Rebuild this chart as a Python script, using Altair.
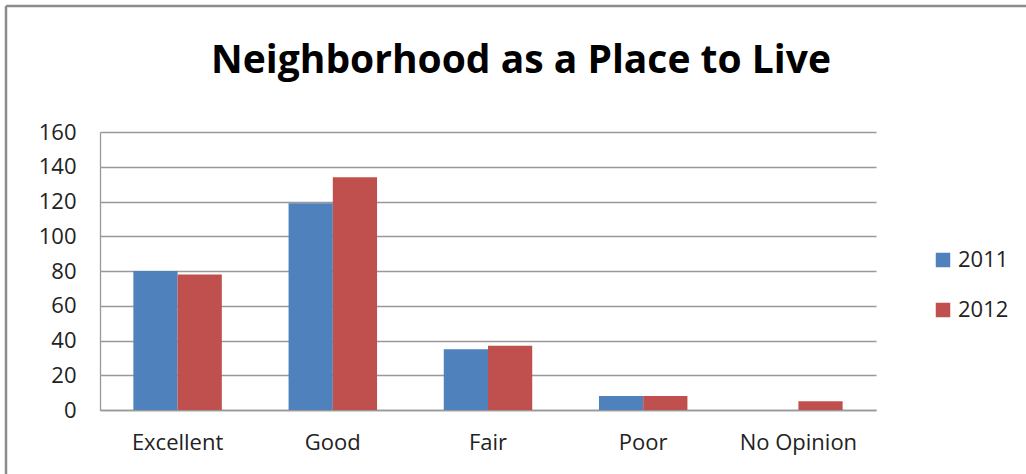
import altair as alt
import pandas as pd

categories = ["Excellent", "Good", "Fair", "Poor", "No Opinion"]
years = ["2011", "2012"]
values_2011 = [80, 119, 35, 8, 0]
values_2012 = [78, 134, 37, 8, 5]
y_ticks = [0, 20, 40, 60, 80, 100, 120, 140, 160]
colors = ["#4F81BD", "#C0504D"]

rows = []
for c, v in zip(categories, values_2011):
    rows.append({"category": c, "year": "2011", "value": v})
for c, v in zip(categories, values_2012):
    rows.append({"category": c, "year": "2012", "value": v})
df = pd.DataFrame(rows)

FONT = "Open Sans"

bars = alt.Chart(df).mark_bar().encode(
    x=alt.X("category:N", sort=categories,
            scale=alt.Scale(paddingInner=0.43, paddingOuter=0.215),
            axis=alt.Axis(title=None, labelAngle=0, ticks=False, labelPadding=22,
                          labelFontSize=22, labelFont=FONT, labelColor="#222",
                          domainColor="#999", domainWidth=1.3, grid=False)),
    xOffset=alt.XOffset("year:N", sort=years),
    y=alt.Y("value:Q", scale=alt.Scale(domain=[0, 160], nice=False),
            axis=alt.Axis(title=None, values=y_ticks, ticks=False, labelPadding=24,
                          labelFontSize=22, labelFont=FONT, labelColor="#222",
                          domainColor="#999", domainWidth=1.3,
                          gridColor="#999", gridWidth=1.3)),
    color=alt.Color("year:N", sort=years,
                    scale=alt.Scale(domain=years, range=colors),
                    legend=alt.Legend(title=None, orient="none", legendX=832, legendY=117,
                                      symbolType="square", symbolSize=210,
                                      symbolStrokeWidth=0, labelFontSize=22,
                                      labelFont=FONT, labelColor="#222",
                                      rowPadding=28, labelOffset=4)),
)

title = alt.Chart(pd.DataFrame({"t": ["Neighborhood as a Place to Live"]})).mark_text(
    font=FONT, fontSize=39, fontWeight="bold", color="black",
    align="center", baseline="alphabetic").encode(
    text="t:N", x=alt.value(421), y=alt.value(-59))

frame_df = pd.DataFrame({"k": [0]})
left_border = alt.Chart(frame_df).mark_rule(color="#8c8c8c", strokeWidth=2.5).encode(
    x=alt.value(-94), y=alt.value(-126), y2=alt.value(342))
top_border = alt.Chart(frame_df).mark_rule(color="#8c8c8c", strokeWidth=2.5).encode(
    x=alt.value(-94), x2=alt.value(926), y=alt.value(-126))

chart = alt.layer(bars, title, left_border, top_border).properties(
    width=776, height=278,
    autosize=alt.AutoSizeParams(type="none"),
    padding={"left": 100, "top": 132, "right": 150, "bottom": 64},
    background="white",
).configure_view(stroke=None)

chart.save("out.html", embed_options={"renderer": "svg", "actions": False})
